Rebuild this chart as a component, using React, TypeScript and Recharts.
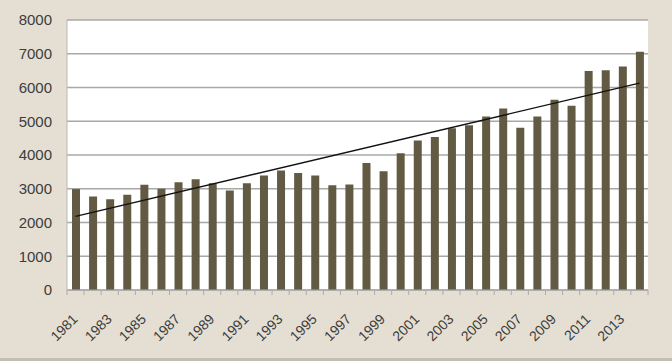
import React from 'react';
import { BarChart, Bar, XAxis, YAxis, CartesianGrid, ReferenceLine } from 'recharts';

const years = [
  '1981', '1982', '1983', '1984', '1985', '1986', '1987', '1988', '1989', '1990',
  '1991', '1992', '1993', '1994', '1995', '1996', '1997', '1998', '1999', '2000',
  '2001', '2002', '2003', '2004', '2005', '2006', '2007', '2008', '2009', '2010',
  '2011', '2012', '2013', '2014',
];

const values = [
  2990, 2770, 2690, 2820, 3115, 3000, 3195, 3285, 3165, 2945,
  3165, 3390, 3540, 3470, 3390, 3105, 3125, 3760, 3520, 4055,
  4430, 4530, 4790, 4885, 5140, 5380, 4810, 5140, 5640, 5460,
  6490, 6510, 6625, 7060,
];

const yTicks = [0, 1000, 2000, 3000, 4000, 5000, 6000, 7000, 8000];

// trend line ends
const trendStart = 2180;
const trendEnd = 6130;

const data = years.map((year, i) => ({ year, value: values[i] }));

const XTick = (props: any) => {
  const { x, y, payload, index } = props;
  const half = 8.55;
  const ax = x + 3;
  const ay = y + 22;
  return (
    <g>
      <line x1={x - half} y1={y - 8} x2={x - half} y2={y - 3} stroke="#b0aca2" />
      {index === years.length - 1 && (
        <line x1={x + half} y1={y - 8} x2={x + half} y2={y - 3} stroke="#b0aca2" />
      )}
      {index % 2 === 0 && (
        <text
          x={ax}
          y={ay}
          textAnchor="end"
          fill="#3c3c3c"
          fontSize={14}
          fontFamily="Liberation Sans, Arial, sans-serif"
          transform={`rotate(-45, ${ax}, ${ay})`}
        >
          {payload.value}
        </text>
      )}
    </g>
  );
};

export default function App() {
  return (
    <div
      style={{
        position: 'absolute',
        left: 0,
        top: 0,
        width: 672,
        height: 361,
        background: '#e5dfd3',
        boxSizing: 'border-box',
        borderBottom: '3px solid #c4bfb5',
      }}
    >
      <BarChart
        width={672}
        height={358}
        data={data}
        margin={{ top: 20, right: 24, bottom: 8, left: 0 }}
      >
        <CartesianGrid vertical={false} fill="#ffffff" stroke="#a8a8a8" strokeWidth={1.3} />
        <XAxis
          dataKey="year"
          interval={0}
          height={60}
          axisLine={{ stroke: '#a8a8a8' }}
          tickLine={false}
          tick={<XTick />}
        />
        <YAxis
          domain={[0, 8000]}
          ticks={yTicks}
          width={67}
          axisLine={{ stroke: '#b8b8b8' }}
          tickLine={false}
          tickMargin={9}
          tick={{ fill: '#3c3c3c', fontSize: 15, fontFamily: 'Liberation Sans, Arial, sans-serif' }}
        />
        <Bar dataKey="value" fill="#625a42" barSize={8} isAnimationActive={false} />
        <ReferenceLine
          segment={[
            { x: years[0], y: trendStart },
            { x: years[years.length - 1], y: trendEnd },
          ]}
          stroke="#111111"
          strokeWidth={1.3}
        />
      </BarChart>
    </div>
  );
}
